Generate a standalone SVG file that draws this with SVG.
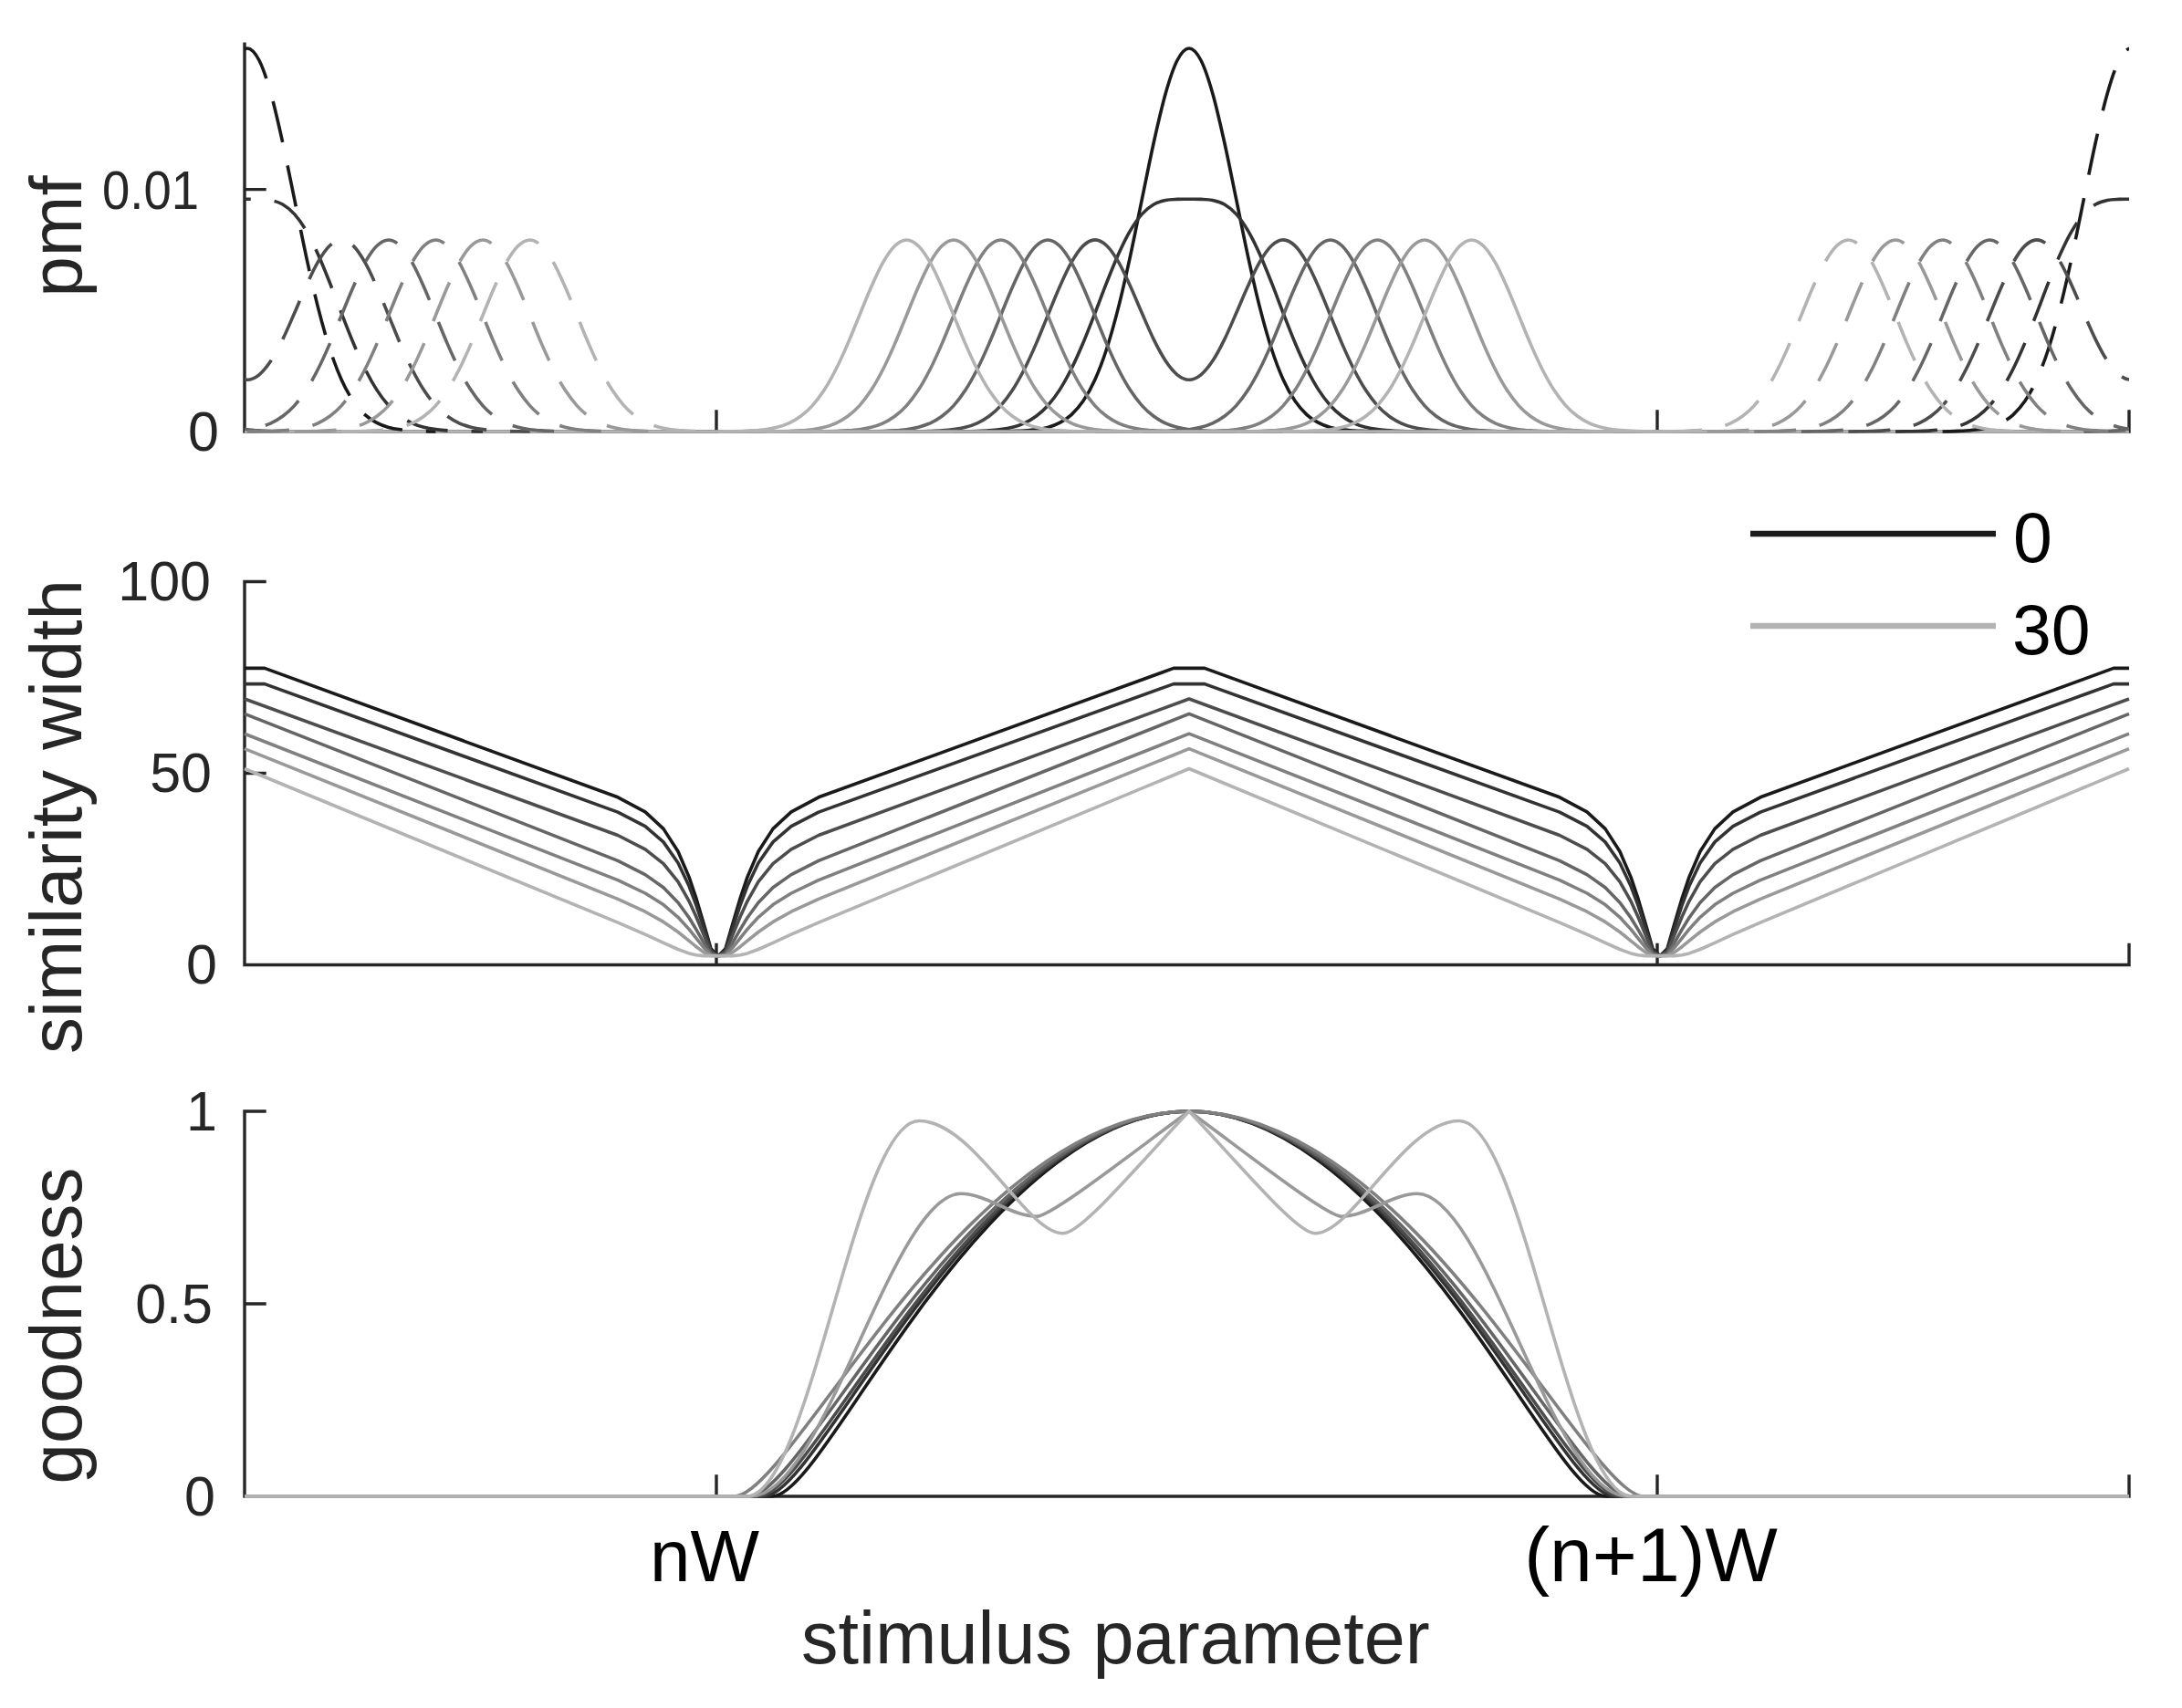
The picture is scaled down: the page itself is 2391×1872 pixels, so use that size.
<svg xmlns="http://www.w3.org/2000/svg" width="2391" height="1872" viewBox="0 0 2391 1872">
<style>
.ax{fill:none;stroke:#262626;stroke-width:3.4;stroke-linecap:square}
.c{fill:none;stroke-width:3.6;stroke-linejoin:round}
.d{stroke-dasharray:46 26}
.k0{stroke:#1a1a1a}.k1{stroke:#333333}.k2{stroke:#4d4d4d}.k3{stroke:#666666}.k4{stroke:#808080}.k5{stroke:#999999}.k6{stroke:#b3b3b3}
text{font-family:"Liberation Sans",Arial,Helvetica,sans-serif}
.tl{font-size:61px;fill:#262626;text-anchor:end}
.lab{font-size:80px;fill:#262626;text-anchor:middle}
.xt{font-size:80px;fill:#000000;text-anchor:middle}
.lg{font-size:77px;fill:#000000}
</style>
<defs>
<path id="hb" d="M-206.4,0 S-197.8,-0.1 -193.5,-0.2 S-184.9,-0.4 -180.6,-0.5 S-172,-0.8 -167.7,-1.1 S-159.1,-1.7 -154.8,-2.3 S-146.2,-3.7 -141.9,-4.8 S-133.3,-7.2 -129,-9.2 S-120.4,-13.5 -116.1,-16.7 S-107.5,-23.6 -103.2,-28.4 S-94.6,-38.8 -90.3,-45.4 S-81.7,-59.8 -77.4,-68.2 S-68.8,-86.2 -64.5,-96.1 S-55.9,-117 -51.6,-127.4 S-43,-148.9 -38.7,-158.5 S-30.1,-177.8 -25.8,-185.3 S-17.2,-199.4 -12.9,-203.5 S-4.3,-210 0,-210 S8.6,-207.6 12.9,-203.5 S21.5,-192.8 25.8,-185.3 S34.4,-168.2 38.7,-158.5 S47.3,-137.8 51.6,-127.4 S60.2,-106 64.5,-96.1 S73.1,-76.7 77.4,-68.2 S86,-52 90.3,-45.4 S98.9,-33.2 103.2,-28.4 S111.8,-19.9 116.1,-16.7 S124.7,-11.2 129,-9.2 S137.6,-6 141.9,-4.8 S150.5,-2.9 154.8,-2.3 S163.4,-1.4 167.7,-1.1 S176.3,-0.7 180.6,-0.5 S189.2,-0.3 193.5,-0.2 S202.1,0 206.4,0"/>
<path id="m0" d="M-206.4,0 S-197.8,-0.2 -193.5,-0.4 S-184.9,-0.7 -180.6,-1 S-172,-1.6 -167.7,-2.2 S-159.1,-3.4 -154.8,-4.6 S-146.2,-7.3 -141.9,-9.6 S-133.3,-14.4 -129,-18.4 S-120.4,-27 -116.1,-33.4 S-107.5,-47.2 -103.2,-56.8 S-94.6,-77.5 -90.3,-90.8 S-81.7,-119.5 -77.4,-136.4 S-68.8,-172.5 -64.5,-192.2 S-55.9,-234 -51.6,-254.8 S-43,-297.7 -38.7,-317 S-30.1,-355.6 -25.8,-370.6 S-17.2,-398.8 -12.9,-407 S-4.3,-420 0,-420 S8.6,-415.2 12.9,-407 S21.5,-385.6 25.8,-370.6 S34.4,-336.3 38.7,-317 S47.3,-275.6 51.6,-254.8 S60.2,-211.9 64.5,-192.2 S73.1,-153.3 77.4,-136.4 S86,-104.1 90.3,-90.8 S98.9,-66.4 103.2,-56.8 S111.8,-39.8 116.1,-33.4 S124.7,-22.4 129,-18.4 S137.6,-11.9 141.9,-9.6 S150.5,-5.8 154.8,-4.6 S163.4,-2.8 167.7,-2.2 S176.3,-1.3 180.6,-1 S189.2,-0.6 193.5,-0.4 S202.1,-0.1 206.4,0"/>
<path id="m1" d="M-258,0 S-249.4,-0.1 -245.1,-0.2 S-236.5,-0.35 -232.2,-0.5 S-223.6,-0.8 -219.3,-1.1 S-210.7,-1.8 -206.4,-2.4 S-197.8,-3.7 -193.5,-4.8 S-184.9,-7.2 -180.6,-9.2 S-172,-13.5 -167.7,-16.7 S-159.1,-23.7 -154.8,-28.5 S-146.2,-38.9 -141.9,-45.6 S-133.3,-60.1 -129,-68.7 S-120.4,-87 -116.1,-97.2 S-107.5,-118.7 -103.2,-129.7 S-94.6,-152.5 -90.3,-163.3 S-81.7,-185 -77.4,-194.5 S-68.8,-212.9 -64.5,-220.2 S-55.9,-233.6 -51.6,-238.4 S-43,-246.5 -38.7,-249 S-30.1,-252.6 -25.8,-253.5 S-17.2,-254.4 -12.9,-254.6 S-4.3,-254.7 0,-254.7 S8.6,-254.8 12.9,-254.6 S21.5,-254.4 25.8,-253.5 S34.4,-251.5 38.7,-249 S47.3,-243.2 51.6,-238.4 S60.2,-227.5 64.5,-220.2 S73.1,-204 77.4,-194.5 S86,-174.1 90.3,-163.3 S98.9,-140.7 103.2,-129.7 S111.8,-107.4 116.1,-97.2 S124.7,-77.3 129,-68.7 S137.6,-52.3 141.9,-45.6 S150.5,-33.3 154.8,-28.5 S163.4,-19.9 167.7,-16.7 S176.3,-11.2 180.6,-9.2 S189.2,-5.9 193.5,-4.8 S202.1,-3 206.4,-2.4 S215,-1.4 219.3,-1.1 S227.9,-0.65 232.2,-0.5 S240.8,-0.3 245.1,-0.2 S253.7,0 258,0"/>
<path id="m2" d="M-309.6,0 S-301,-0.1 -296.7,-0.2 S-288.1,-0.35 -283.8,-0.5 S-275.2,-0.8 -270.9,-1.1 S-262.3,-1.8 -258,-2.4 S-249.4,-3.7 -245.1,-4.8 S-236.5,-7.2 -232.2,-9.2 S-223.6,-13.5 -219.3,-16.7 S-210.7,-23.6 -206.4,-28.4 S-197.8,-38.8 -193.5,-45.4 S-184.9,-59.8 -180.6,-68.2 S-172,-86.2 -167.7,-96.1 S-159.1,-117 -154.8,-127.4 S-146.2,-148.9 -141.9,-158.5 S-133.3,-177.8 -129,-185.3 S-120.4,-199.5 -116.1,-203.6 S-107.5,-210.1 -103.2,-210.1 S-94.6,-207.8 -90.3,-203.7 S-81.7,-193.2 -77.4,-185.8 S-68.8,-169 -64.5,-159.6 S-55.9,-139.5 -51.6,-129.7 S-43,-109.6 -38.7,-100.9 S-30.1,-83.9 -25.8,-77.4 S-17.2,-65.6 -12.9,-62.2 S-4.3,-56.8 0,-56.8 S8.6,-58.8 12.9,-62.2 S21.5,-71 25.8,-77.4 S34.4,-92.2 38.7,-100.9 S47.3,-119.9 51.6,-129.7 S60.2,-150.3 64.5,-159.6 S73.1,-178.5 77.4,-185.8 S86,-199.7 90.3,-203.7 S98.9,-210.1 103.2,-210.1 S111.8,-207.7 116.1,-203.6 S124.7,-192.8 129,-185.3 S137.6,-168.2 141.9,-158.5 S150.5,-137.8 154.8,-127.4 S163.4,-106 167.7,-96.1 S176.3,-76.7 180.6,-68.2 S189.2,-52 193.5,-45.4 S202.1,-33.2 206.4,-28.4 S215,-19.9 219.3,-16.7 S227.9,-11.2 232.2,-9.2 S240.8,-5.9 245.1,-4.8 S253.7,-3 258,-2.4 S266.6,-1.4 270.9,-1.1 S279.5,-0.65 283.8,-0.5 S292.4,-0.3 296.7,-0.2 S305.3,0 309.6,0"/>
<clipPath id="clipTop"><rect x="268" y="0" width="2065" height="480"/></clipPath>
</defs>
<rect x="0" y="0" width="2391" height="1872" fill="#ffffff"/>

<g id="panel-pmf">
<path class="ax" d="M268,48.3 V473 H2333 M268,207.6 H290 M785,473 V451 M1816,473 V451 M2333,473 V451"/>
<g id="pmf-solid">
<use href="#m0" x="1303" y="473" class="c k0"/>
<use href="#m1" x="1303" y="473" class="c k1"/>
<use href="#m2" x="1303" y="473" class="c k2"/>
<use href="#hb" x="1148.2" y="473" class="c k3"/>
<use href="#hb" x="1457.8" y="473" class="c k3"/>
<use href="#hb" x="1096.6" y="473" class="c k4"/>
<use href="#hb" x="1509.4" y="473" class="c k4"/>
<use href="#hb" x="1045" y="473" class="c k5"/>
<use href="#hb" x="1561" y="473" class="c k5"/>
<use href="#hb" x="993.4" y="473" class="c k6"/>
<use href="#hb" x="1612.6" y="473" class="c k6"/>
<path class="c k6" d="M268,473 H2333"/>
</g>
<g id="pmf-dashed" clip-path="url(#clipTop)">
<use href="#m0" x="271" y="473" class="c d k0"/>
<use href="#m1" x="271" y="473" class="c d k1"/>
<use href="#m2" x="271" y="473" class="c d k2"/>
<use href="#hb" x="116.2" y="473" class="c d k3"/>
<use href="#hb" x="425.8" y="473" class="c d k3"/>
<use href="#hb" x="64.6" y="473" class="c d k4"/>
<use href="#hb" x="477.4" y="473" class="c d k4"/>
<use href="#hb" x="13" y="473" class="c d k5"/>
<use href="#hb" x="529" y="473" class="c d k5"/>
<use href="#hb" x="-38.6" y="473" class="c d k6"/>
<use href="#hb" x="580.6" y="473" class="c d k6"/>
<use href="#m0" x="2335" y="473" class="c d k0"/>
<use href="#m1" x="2335" y="473" class="c d k1"/>
<use href="#m2" x="2335" y="473" class="c d k2"/>
<use href="#hb" x="2180.2" y="473" class="c d k3"/>
<use href="#hb" x="2489.8" y="473" class="c d k3"/>
<use href="#hb" x="2128.6" y="473" class="c d k4"/>
<use href="#hb" x="2541.4" y="473" class="c d k4"/>
<use href="#hb" x="2077" y="473" class="c d k5"/>
<use href="#hb" x="2593" y="473" class="c d k5"/>
<use href="#hb" x="2025.4" y="473" class="c d k6"/>
<use href="#hb" x="2644.6" y="473" class="c d k6"/>
</g>
<text class="tl" x="218" y="229" style="font-size:60px" textLength="106" lengthAdjust="spacingAndGlyphs">0.01</text>
<text class="tl" x="240" y="494">0</text>
<text class="lab" transform="translate(89,259) rotate(-90)">pmf</text>
</g>

<g id="panel-width">
<path class="ax" d="M268,637.5 V1057.5 H2333 M268,637.5 H290 M268,847.5 H290 M785,1057.5 V1035.5 M1816,1057.5 V1035.5 M2333,1057.5 V1035.5"/>
<path class="c k0" d="M268,732.4 H290 L677,873.8 707,889.9 727,908.4 743,933.3 755,961.2 763,984.9 771,1011.9 779,1039.7 787,1047.8 795,1039.7 803,1011.9 811,984.9 819,961.2 831,933.3 847,908.4 867,889.9 897,873.8 1286,732.4 1320,732.4 1709,873.8 1739,889.9 1759,908.4 1775,933.3 1787,961.2 1795,984.9 1803,1011.9 1811,1039.7 1819,1047.8 1827,1039.7 1835,1011.9 1843,984.9 1851,961.2 1863,933.3 1879,908.4 1899,889.9 1929,873.8 2316,732.4 2333,732.4"/>
<path class="c k1" d="M268,749.6 H290 L677,890.1 707,905.7 727,922.9 743,945.8 755,971.1 763,992.4 771,1016.6 779,1041 787,1047.8 795,1041 803,1016.6 811,992.4 819,971.1 831,945.8 847,922.9 867,905.7 897,890.1 1286,749.6 1320,749.6 1709,890.1 1739,905.7 1759,922.9 1775,945.8 1787,971.1 1795,992.4 1803,1016.6 1811,1041 1819,1047.8 1827,1041 1835,1016.6 1843,992.4 1851,971.1 1863,945.8 1879,922.9 1899,905.7 1929,890.1 2316,749.6 2333,749.6"/>
<path class="c k2" d="M268,766 L677,915.5 707,930.8 727,946.6 743,966.4 755,987.6 763,1005 771,1024.4 779,1043.2 787,1047.8 795,1043.2 803,1024.4 811,1005 819,987.6 831,966.4 847,946.6 867,930.8 897,915.5 1303,766 1709,915.5 1739,930.8 1759,946.6 1775,966.4 1787,987.6 1795,1005 1803,1024.4 1811,1043.2 1819,1047.8 1827,1043.2 1835,1024.4 1843,1005 1851,987.6 1863,966.4 1879,946.6 1899,930.8 1929,915.5 2333,766"/>
<path class="c k3" d="M268,782.4 L677,943.4 707,958.6 727,972.7 743,989.2 755,1005.8 763,1018.9 771,1032.9 779,1045.3 787,1047.8 795,1045.3 803,1032.9 811,1018.9 819,1005.8 831,989.2 847,972.7 867,958.6 897,943.4 1303,782.4 1709,943.4 1739,958.6 1759,972.7 1775,989.2 1787,1005.8 1795,1018.9 1803,1032.9 1811,1045.3 1819,1047.8 1827,1045.3 1835,1032.9 1843,1018.9 1851,1005.8 1863,989.2 1879,972.7 1899,958.6 1929,943.4 2333,782.4"/>
<path class="c k4" d="M268,804.2 L677,964.6 707,979 727,991.6 743,1005.3 755,1018.4 763,1028.4 771,1038.5 779,1046.5 787,1047.8 795,1046.5 803,1038.5 811,1028.4 819,1018.4 831,1005.3 847,991.6 867,979 897,964.6 1303,804.2 1709,964.6 1739,979 1759,991.6 1775,1005.3 1787,1018.4 1795,1028.4 1803,1038.5 1811,1046.5 1819,1047.8 1827,1046.5 1835,1038.5 1843,1028.4 1851,1018.4 1863,1005.3 1879,991.6 1899,979 1929,964.6 2333,804.2"/>
<path class="c k5" d="M268,820.6 L677,985.3 707,999.2 727,1010.4 743,1021.5 755,1031.1 763,1037.7 771,1043.6 779,1047.4 787,1047.8 795,1047.4 803,1043.6 811,1037.7 819,1031.1 831,1021.5 847,1010.4 867,999.2 897,985.3 1303,820.6 1709,985.3 1739,999.2 1759,1010.4 1775,1021.5 1787,1031.1 1795,1037.7 1803,1043.6 1811,1047.4 1819,1047.8 1827,1047.4 1835,1043.6 1843,1037.7 1851,1031.1 1863,1021.5 1879,1010.4 1899,999.2 1929,985.3 2333,820.6"/>
<path class="c k6" d="M268,842.5 L677,1011.1 707,1024.2 727,1033.4 743,1040.5 755,1044.9 763,1046.8 771,1047.6 779,1047.8 787,1047.8 795,1047.8 803,1047.6 811,1046.8 819,1044.9 831,1040.5 847,1033.4 867,1024.2 897,1011.1 1303,842.5 1709,1011.1 1739,1024.2 1759,1033.4 1775,1040.5 1787,1044.9 1795,1046.8 1803,1047.6 1811,1047.8 1819,1047.8 1827,1047.8 1835,1047.6 1843,1046.8 1851,1044.9 1863,1040.5 1879,1033.4 1899,1024.2 1929,1011.1 2333,842.5"/>
<text class="tl" x="231" y="658">100</text>
<text class="tl" x="232" y="868">50</text>
<text class="tl" x="238" y="1078">0</text>
<text class="lab" transform="translate(89,895) rotate(-90)">similarity width</text>
</g>

<g id="legend">
<line x1="1918" y1="585" x2="2187" y2="585" stroke="#1a1a1a" stroke-width="6.5"/>
<line x1="1918" y1="686" x2="2187" y2="686" stroke="#b3b3b3" stroke-width="6.5"/>
<text class="lg" x="2206" y="616">0</text>
<text class="lg" x="2205" y="717">30</text>
</g>

<g id="panel-goodness">
<path class="ax" d="M268,1218 V1640 H2333 M268,1218 H290 M268,1429 H290 M785,1640 V1618 M1816,1640 V1618 M2333,1640 V1618"/>
<path class="c k0" d="M268,1640 H846 C886,1640 964.5,1470.3 1084.5,1341.6 C1157.3,1263.5 1230.2,1218 1303,1218 C1375.8,1218 1448.7,1263.5 1521.5,1341.6 C1641.5,1470.3 1720,1640 1760,1640 H2333"/>
<path class="c k1" d="M268,1640 H837 C877,1640 960,1467.7 1080,1341.6 C1154.3,1263.5 1228.7,1218 1303,1218 C1377.3,1218 1451.7,1263.5 1526,1341.6 C1646,1467.7 1729,1640 1769,1640 H2333"/>
<path class="c k2" d="M268,1640 H831 C871,1640 957,1466.1 1077,1341.6 C1152.3,1263.5 1227.7,1218 1303,1218 C1378.3,1218 1453.7,1263.5 1529,1341.6 C1649,1466.1 1735,1640 1775,1640 H2333"/>
<path class="c k3" d="M268,1640 H821 C861,1640 952,1463.4 1072,1341.6 C1149,1263.5 1226,1218 1303,1218 C1380,1218 1457,1263.5 1534,1341.6 C1654,1463.4 1745,1640 1785,1640 H2333"/>
<path class="c k4" d="M268,1640 H805 C845,1640 944,1459.3 1064,1341.6 C1143.7,1263.5 1223.3,1218 1303,1218 C1382.7,1218 1462.3,1263.5 1542,1341.6 C1662,1459.3 1761,1640 1801,1640 H2333"/>
<path class="c k5" d="M268,1640 H823 C903,1640 978,1308.3 1053,1308.3 C1081,1308.3 1108,1333.2 1136,1333.2 C1153,1333.2 1253,1253.9 1303,1218 C1353,1253.9 1453,1333.2 1470,1333.2 C1498,1333.2 1525,1308.3 1553,1308.3 C1628,1308.3 1703,1640 1783,1640 H2333"/>
<path class="c k6" d="M268,1640 H818 C888,1640 937,1228.5 1007,1228.5 C1067,1228.5 1124,1351.8 1165,1351.8 C1185,1351.8 1243,1281.3 1303,1218 C1363,1281.3 1421,1351.8 1441,1351.8 C1482,1351.8 1539,1228.5 1599,1228.5 C1669,1228.5 1718,1640 1788,1640 H2333"/>
<text class="tl" x="238" y="1239">1</text>
<text class="tl" x="233" y="1450">0.5</text>
<text class="tl" x="236" y="1661">0</text>
<text class="lab" transform="translate(89,1453) rotate(-90)">goodness</text>
</g>

<g id="x-labels">
<text class="xt" x="772" y="1733">nW</text>
<text class="xt" x="1809" y="1733" style="font-size:84px">(n+1)W</text>
<text x="878" y="1823" style="font-size:81px;fill:#262626">stimulus parameter</text>
</g>
</svg>
